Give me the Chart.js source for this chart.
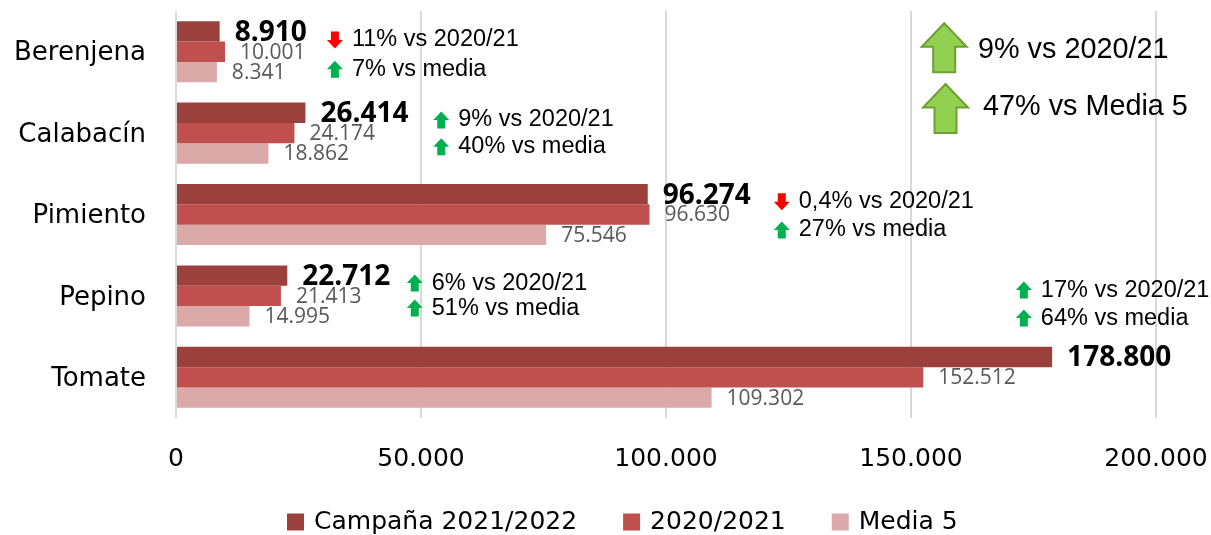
<!DOCTYPE html>
<html><head><meta charset="utf-8">
<script src="https://cdn.jsdelivr.net/npm/chart.js@4"></script>
<style>html,body{margin:0;padding:0;background:#fff;}</style>
</head><body>
<canvas id="c" width="1211" height="535"></canvas>
<script>
// ---- data ----
const categories = ['Berenjena', 'Calabacín', 'Pimiento', 'Pepino', 'Tomate'];
const seriesNames = ['Campaña 2021/2022', '2020/2021', 'Media 5'];
const campana2122 = [8910, 26414, 96274, 22712, 178800];
const campana2021 = [10001, 24174, 96630, 21413, 152512];
const media5 = [8341, 18862, 75546, 14995, 109302];
const xTicks = [0, 50000, 100000, 150000, 200000];
const vs2021Text = ['11% vs 2020/21', '9% vs 2020/21', '0,4% vs 2020/21', '6% vs 2020/21', '17% vs 2020/21'];
const vs2021Up = [false, true, false, true, true];
const vsMediaText = ['7% vs media', '40% vs media', '27% vs media', '51% vs media', '64% vs media'];
const vsMediaUp = [true, true, true, true, true];
const totalText = ['9% vs 2020/21', '47% vs Media 5'];

// ---- layout / style (not data) ----
const colors = ['#9C403E', '#C0504D', '#DBA9A8'];
const annoLayout = {
  x: [35900, 57600, 127100, 52200, 176500],      // x value where text starts
  dy1: [-0.144, -0.161, -0.157, -0.158, -1.072], // offset in category units
  dy2: [0.216, 0.167, 0.19, 0.149, -0.728]
};

function fmt(v) { return String(v).replace(/\B(?=(\d{3})+(?!\d))/g, '.'); }

function smallArrow(ctx, x, cy, up, color) {
  const w = 16, h = 17, hh = 8.5, sw = 8;
  ctx.save();
  ctx.fillStyle = color;
  ctx.beginPath();
  if (up) {
    const top = cy - h / 2;
    ctx.moveTo(x + w / 2, top);
    ctx.lineTo(x + w, top + hh);
    ctx.lineTo(x + w / 2 + sw / 2, top + hh);
    ctx.lineTo(x + w / 2 + sw / 2, top + h);
    ctx.lineTo(x + w / 2 - sw / 2, top + h);
    ctx.lineTo(x + w / 2 - sw / 2, top + hh);
    ctx.lineTo(x, top + hh);
  } else {
    const bot = cy + h / 2;
    ctx.moveTo(x + w / 2, bot);
    ctx.lineTo(x + w, bot - hh);
    ctx.lineTo(x + w / 2 + sw / 2, bot - hh);
    ctx.lineTo(x + w / 2 + sw / 2, bot - h);
    ctx.lineTo(x + w / 2 - sw / 2, bot - h);
    ctx.lineTo(x + w / 2 - sw / 2, bot - hh);
    ctx.lineTo(x, bot - hh);
  }
  ctx.closePath();
  ctx.fill();
  ctx.restore();
}

function bigArrow(ctx, left, top) {
  const w = 45, h = 49, hh = 23.5, sw = 22;
  const cx = left + w / 2;
  ctx.save();
  ctx.fillStyle = '#92D050';
  ctx.strokeStyle = '#6F9E35';
  ctx.lineWidth = 2;
  ctx.lineJoin = 'miter';
  ctx.beginPath();
  ctx.moveTo(cx, top);
  ctx.lineTo(left + w, top + hh);
  ctx.lineTo(cx + sw / 2, top + hh);
  ctx.lineTo(cx + sw / 2, top + h);
  ctx.lineTo(cx - sw / 2, top + h);
  ctx.lineTo(cx - sw / 2, top + hh);
  ctx.lineTo(left, top + hh);
  ctx.closePath();
  ctx.fill();
  ctx.stroke();
  ctx.restore();
}

const labelsPlugin = {
  id: 'labelsPlugin',
  afterDatasetsDraw(chart) {
    const ctx = chart.ctx;
    const xs = chart.scales.x, ys = chart.scales.y;
    ctx.save();
    ctx.textBaseline = 'middle';
    ctx.textAlign = 'left';
    // value labels
    chart.data.datasets.forEach((ds, i) => {
      const meta = chart.getDatasetMeta(i);
      meta.data.forEach((bar, j) => {
        if (i === 0) { ctx.font = 'bold 28px "Open Sans"'; ctx.fillStyle = '#000'; }
        else { ctx.font = '21px "Open Sans"'; ctx.fillStyle = '#595959'; }
        ctx.fillText(fmt(ds.data[j]), bar.x + 15, bar.y + (i === 0 ? 1.5 : 1));
      });
    });
    // comparison annotations
    ctx.font = '23.5px "Liberation Sans"';
    ctx.fillStyle = '#000';
    categories.forEach((c, j) => {
      const tx = xs.getPixelForValue(annoLayout.x[j]);
      const y1 = ys.getPixelForValue(j + annoLayout.dy1[j]);
      const y2 = ys.getPixelForValue(j + annoLayout.dy2[j]);
      smallArrow(ctx, tx - 25, y1, vs2021Up[j], vs2021Up[j] ? '#00B050' : '#FF0000');
      smallArrow(ctx, tx - 25, y2, vsMediaUp[j], vsMediaUp[j] ? '#00B050' : '#FF0000');
      ctx.fillText(vs2021Text[j], tx, y1);
      ctx.fillText(vsMediaText[j], tx, y2);
    });
    // totals, top right
    const ca = chart.chartArea;
    bigArrow(ctx, ca.right - 234.3, ca.top + 12.3);
    bigArrow(ctx, ca.right - 233, ca.top + 73);
    ctx.font = '28.8px "Liberation Sans"';
    ctx.fillText(totalText[0], ca.right - 178, ca.top + 39);
    ctx.fillText(totalText[1], ca.right - 173, ca.top + 95.7);
    // legend
    ctx.font = '25px "DejaVu Sans"';
    let lx = 287;
    const ly = 522;
    seriesNames.forEach((n, i) => {
      ctx.fillStyle = colors[i];
      ctx.fillRect(lx, ly - 8.5, 17, 17);
      ctx.fillStyle = '#000';
      ctx.fillText(n, lx + 27, ly);
      lx += 27 + ctx.measureText(n).width + 46;
    });
    ctx.restore();
  }
};

new Chart(document.getElementById('c'), {
  type: 'bar',
  data: {
    labels: categories,
    datasets: [
      { label: seriesNames[0], data: campana2122, backgroundColor: colors[0] },
      { label: seriesNames[1], data: campana2021, backgroundColor: colors[1] },
      { label: seriesNames[2], data: media5, backgroundColor: colors[2] }
    ]
  },
  options: {
    indexAxis: 'y',
    responsive: false,
    animation: false,
    barPercentage: 1,
    categoryPercentage: 0.75,
    layout: { padding: { top: 11, right: 55, left: 0, bottom: 0 } },
    plugins: { legend: { display: false }, tooltip: { enabled: false } },
    scales: {
      x: {
        min: 0, max: 200000,
        afterBuildTicks: s => { s.ticks = xTicks.map(v => ({ value: v })); },
        ticks: { font: { family: 'DejaVu Sans', size: 25 }, color: '#000', padding: 26, maxRotation: 0, autoSkip: false, callback: v => fmt(v) },
        grid: { color: '#D9D9D9', lineWidth: 2, drawTicks: false },
        border: { display: false },
        afterFit: s => { s.height = 117; s.paddingLeft = 0; s.paddingRight = 0; s.paddingTop = 0; s.paddingBottom = 0; }
      },
      y: {
        ticks: { font: { family: 'DejaVu Sans', size: 26 }, color: '#000', padding: 30, labelOffset: 2 },
        grid: { display: false, drawTicks: false },
        border: { display: false },
        afterFit: s => { s.width = 176; s.paddingLeft = 0; s.paddingRight = 0; s.paddingTop = 0; s.paddingBottom = 0; }
      }
    }
  },
  plugins: [labelsPlugin]
});
</script>
</body></html>
